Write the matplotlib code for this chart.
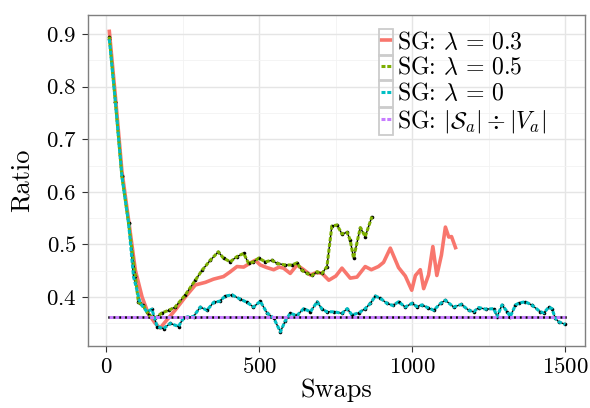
import matplotlib
matplotlib.use('Agg')
import matplotlib.pyplot as plt
from matplotlib.ticker import MultipleLocator
from matplotlib.patches import Rectangle

plt.rcParams['font.family'] = 'serif'
plt.rcParams['font.serif'] = ['cmr10']
plt.rcParams['mathtext.fontset'] = 'cm'
plt.rcParams['axes.formatter.use_mathtext'] = True

# SG, lambda = 0.3
x_l03 = [10, 30, 51, 73, 95, 117, 137, 160, 176, 193, 225, 258, 291, 324, 350,
         383, 405, 427, 449, 471, 487, 503, 525, 547, 565, 579, 601, 623, 645, 667,
         688, 705, 727, 750, 770, 797, 819, 846, 866, 889, 906, 928, 955, 977, 998,
         1010, 1026, 1037, 1053, 1067, 1080, 1095, 1108, 1119, 1128, 1141]
y_l03 = [0.905, 0.78, 0.64, 0.546, 0.451, 0.400, 0.369, 0.350, 0.341, 0.353,
         0.375, 0.400, 0.423, 0.428, 0.434, 0.439, 0.448, 0.458, 0.457, 0.465,
         0.470, 0.461, 0.456, 0.452, 0.457, 0.455, 0.445, 0.461, 0.452, 0.442,
         0.447, 0.445, 0.432, 0.440, 0.455, 0.436, 0.438, 0.458, 0.452, 0.458,
         0.466, 0.493, 0.456, 0.440, 0.413, 0.441, 0.452, 0.416, 0.442, 0.496,
         0.441, 0.48, 0.533, 0.514, 0.515, 0.494]

# SG, lambda = 0.5
x_l05 = [10, 30, 51, 73, 95, 105, 120, 140, 160, 182, 205, 225, 258, 291, 313,
         340, 366, 383, 405, 427, 449, 465, 481, 498, 520, 541, 558, 585, 607, 623,
         639, 656, 672, 688, 705, 721, 737, 754, 770, 787, 797, 808, 830, 846, 868]
y_l05 = [0.895, 0.77, 0.63, 0.54, 0.44, 0.39, 0.385, 0.365, 0.36, 0.37,
         0.375, 0.381, 0.404, 0.432, 0.451, 0.47, 0.486, 0.474, 0.467, 0.477,
         0.483, 0.464, 0.467, 0.474, 0.467, 0.470, 0.464, 0.461, 0.461, 0.465,
         0.451, 0.445, 0.441, 0.448, 0.445, 0.458, 0.535, 0.537, 0.52, 0.523,
         0.508, 0.474, 0.532, 0.515, 0.553]

# SG, lambda = 0
x_l0 = [10, 30, 51, 73, 89, 111, 133, 149, 166, 187, 209, 236, 252, 264, 285,
        307, 329, 351, 370, 389, 411, 438, 460, 481, 503, 525, 547, 569, 585, 601,
        623, 645, 667, 689, 705, 721, 745, 770, 787, 803, 825, 846, 863, 879, 895,
        917, 936, 955, 977, 998, 1015, 1031, 1050, 1070, 1092, 1108, 1135, 1160,
        1184, 1200, 1217, 1240, 1266, 1277, 1293, 1310, 1320, 1337, 1350, 1369,
        1390, 1418, 1430, 1446, 1456, 1467, 1478, 1500]
y_l0 = [0.89, 0.77, 0.63, 0.54, 0.439, 0.388, 0.372, 0.377, 0.344, 0.340,
        0.350, 0.344, 0.360, 0.362, 0.363, 0.381, 0.375, 0.390, 0.392, 0.402,
        0.404, 0.396, 0.390, 0.381, 0.392, 0.370, 0.360, 0.334, 0.355, 0.369,
        0.365, 0.378, 0.372, 0.391, 0.377, 0.372, 0.372, 0.369, 0.378, 0.366,
        0.370, 0.378, 0.388, 0.402, 0.398, 0.388, 0.384, 0.391, 0.381, 0.388,
        0.382, 0.385, 0.380, 0.375, 0.388, 0.394, 0.381, 0.386, 0.375, 0.372,
        0.380, 0.377, 0.378, 0.363, 0.385, 0.372, 0.363, 0.385, 0.389, 0.391,
        0.385, 0.372, 0.370, 0.381, 0.378, 0.360, 0.353, 0.348]

# SG, |S_a| / |V_a|
x_ratio = [10, 1500]
y_ratio = [0.363, 0.363]

labels = [r'SG: $\lambda\,=\,0.3$', r'SG: $\lambda\,=\,0.5$', r'SG: $\lambda\,=\,0$',
          r'SG: $|\mathcal{S}_a| \div |V_a|$']

fig = plt.figure(figsize=(5.9, 4.08), dpi=100)
ax = fig.add_axes([0.149, 0.152, 0.843, 0.811])


def dotted(x, y, color, label, pts=True, under=1.0):
    ax.plot(x, y, color='black', lw=under, zorder=3)
    if pts:
        ax.plot(x, y, ls='none', marker='o', ms=2.6, mfc='black', mec='none', zorder=3.5)
    line, = ax.plot(x, y, color=color, lw=2.2, ls=(0, (1.3, 0.6)), zorder=4, label=label)
    return line


h1, = ax.plot(x_l03, y_l03, color='#F8766D', lw=2.6, zorder=2.5, label=labels[0])
h2 = dotted(x_l05, y_l05, '#7CAE00', labels[1])
h3 = dotted(x_l0, y_l0, '#00BFC4', labels[2])
h4 = dotted(x_ratio, y_ratio, '#C77CFF', labels[3], pts=False, under=1.8)

ax.set_xlim(-60, 1565)
ax.set_ylim(0.307, 0.936)
ax.xaxis.set_major_locator(MultipleLocator(500))
ax.xaxis.set_minor_locator(MultipleLocator(250))
ax.yaxis.set_major_locator(MultipleLocator(0.1))
ax.yaxis.set_minor_locator(MultipleLocator(0.05))
ax.grid(which='major', color='#E5E5E5', lw=1.0)
ax.grid(which='minor', color='#F2F2F2', lw=0.6)
ax.set_axisbelow(True)
for s in ax.spines.values():
    s.set_color('#7F7F7F')
    s.set_linewidth(1.0)
ax.tick_params(which='major', length=4, color='#333333', labelsize=16.5, pad=4)
ax.tick_params(which='minor', length=0)
ax.set_xlabel('Swaps', fontsize=19, labelpad=1)
ax.set_ylabel('Ratio', fontsize=19, labelpad=9)


def make_legend(size):
    return ax.legend(handles=[h1, h2, h3, h4], loc='upper left', bbox_to_anchor=(0.59, 0.952),
                     frameon=False, fontsize=size, handlelength=0.42, handletextpad=0.25,
                     labelspacing=0.12, borderpad=0.0, borderaxespad=0.0)


# size the legend so the last label is about 149 px wide, as in the original
leg = make_legend(17.5)
fig.canvas.draw()
rend = fig.canvas.get_renderer()
w = leg.get_texts()[3].get_window_extent(rend).width
leg.remove()
leg = make_legend(17.5 * 149.0 / w)

# grey boxes round the legend keys
fig.canvas.draw()
inv = fig.transFigure.inverted()
for h, t in zip(leg.legend_handles, leg.get_texts()):
    hb = h.get_window_extent(rend)
    tb = t.get_window_extent(rend)
    cx = (hb.x0 + hb.x1) / 2
    cy = (tb.y0 + tb.y1) / 2
    (x0, y0) = inv.transform((cx - 7, cy - 13.3))
    (x1, y1) = inv.transform((cx + 7, cy + 13.3))
    fig.patches.append(Rectangle((x0, y0), x1 - x0, y1 - y0, transform=fig.transFigure,
                                 fill=False, edgecolor='#CCCCCC', lw=1.3, zorder=10))

fig.savefig('out.png', dpi=100)
